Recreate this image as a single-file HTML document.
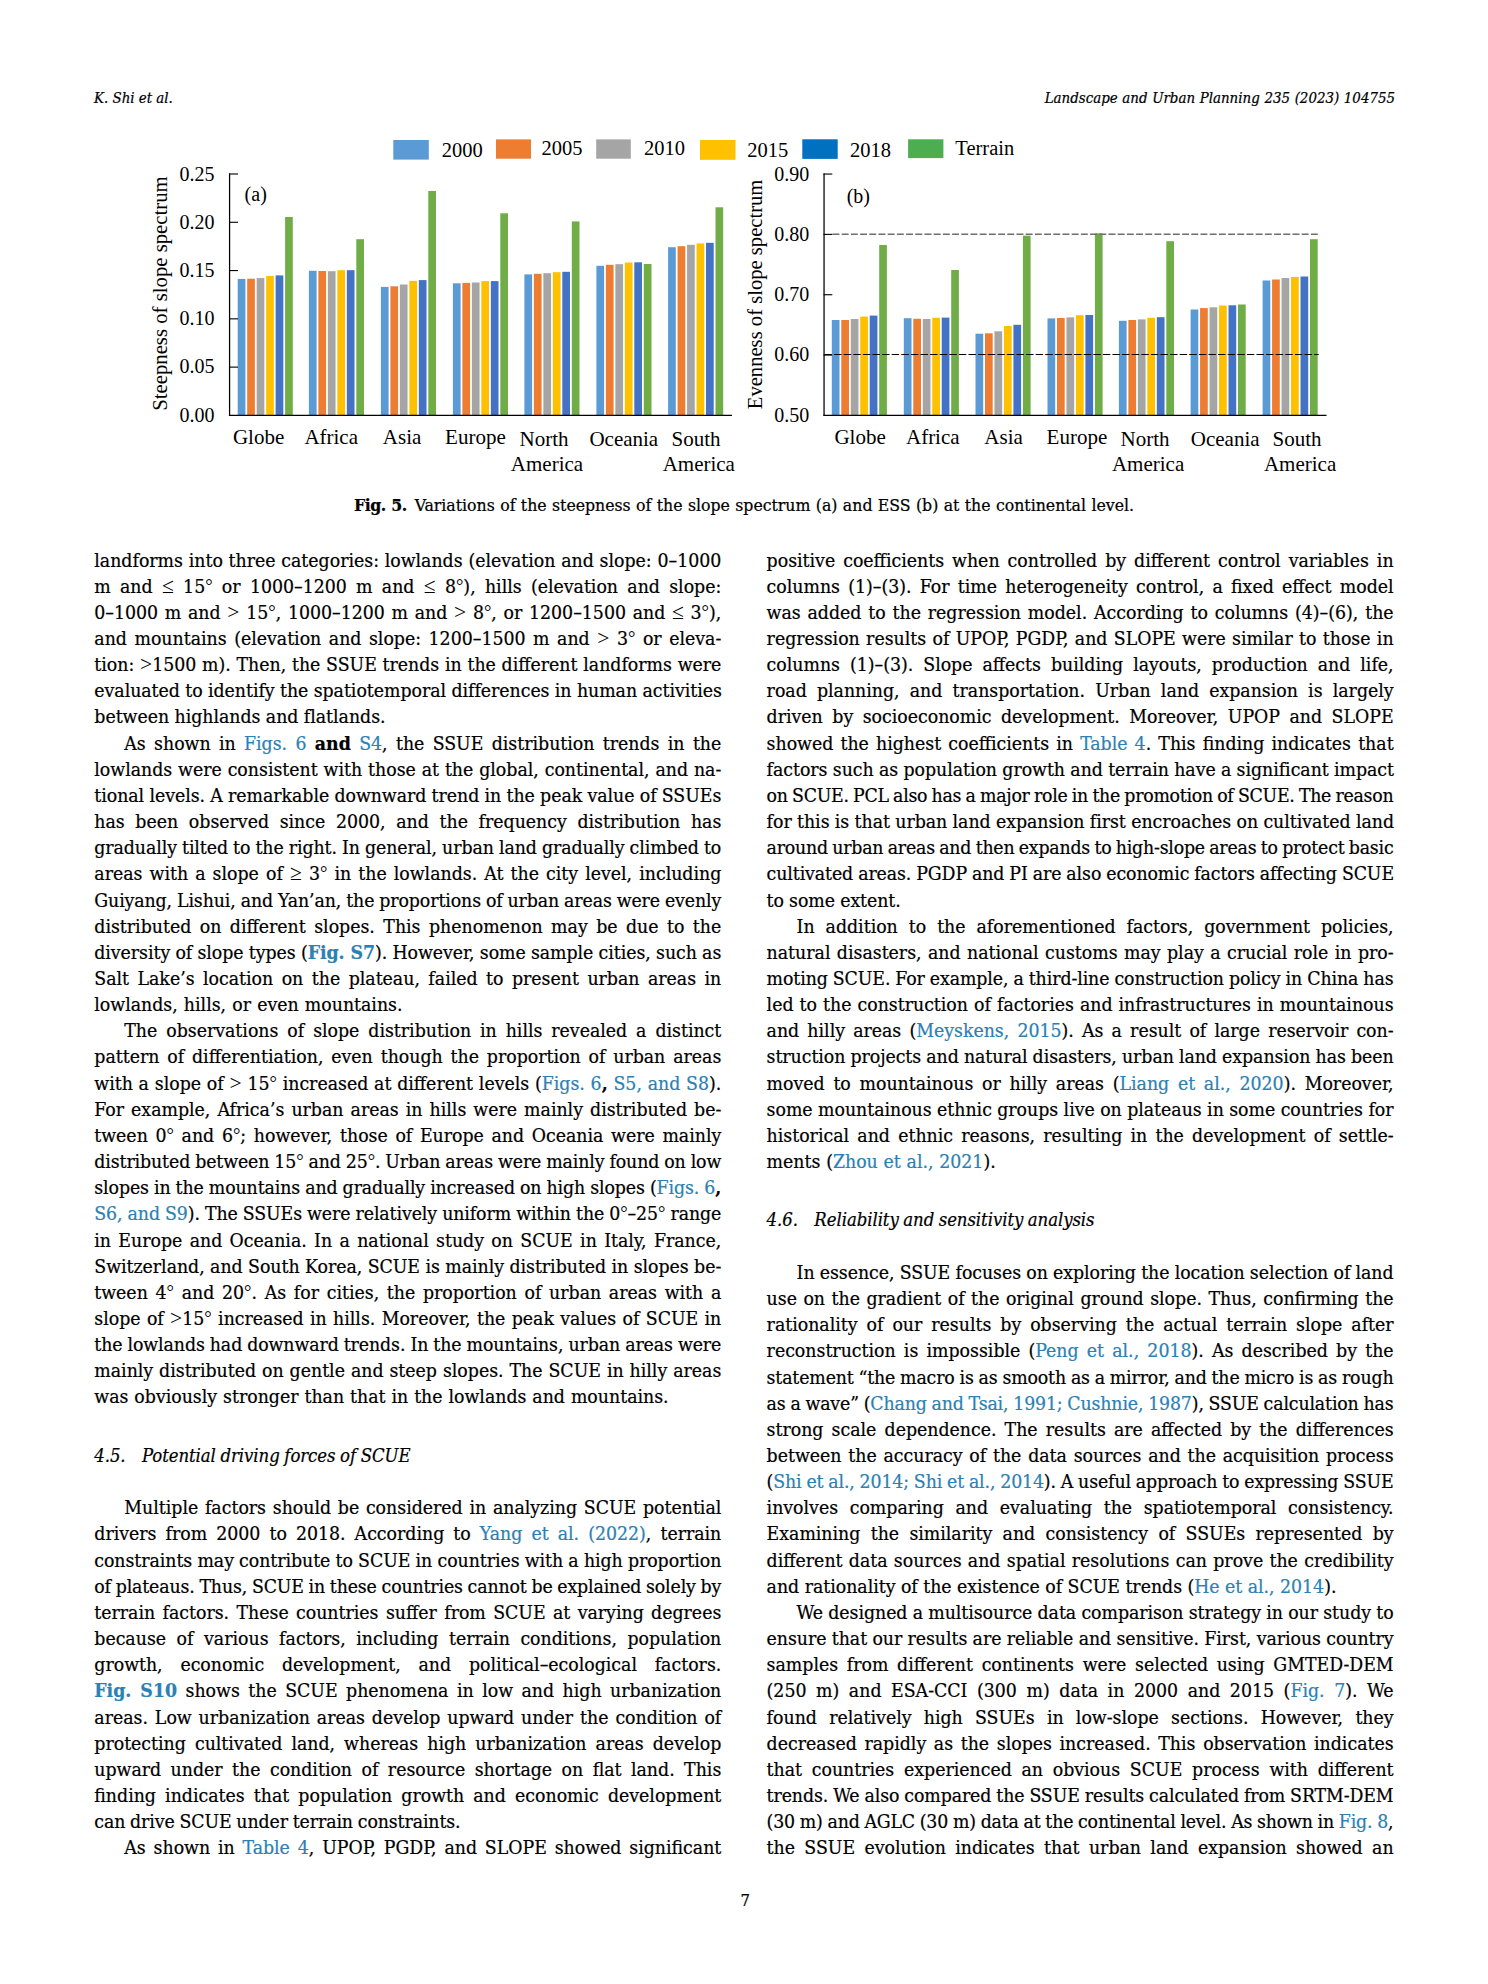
<!DOCTYPE html>
<html lang="en"><head><meta charset="utf-8"><title>Landscape and Urban Planning 235 (2023) 104755</title>
<style>
html,body{margin:0;padding:0;background:#fff}
body{width:1488px;height:1984px;position:relative;overflow:hidden;font-family:"DejaVu Serif Condensed", "DejaVu Serif", "Liberation Serif", serif;font-stretch:condensed;color:#000}
figure,h3,figcaption{margin:0;padding:0;font-weight:normal}
.ln{position:absolute;white-space:nowrap;-webkit-text-stroke-width:0.22px;font-size:19.3px;line-height:26px;height:26px;margin:0}
.ln.h{font-style:italic;font-size:18.4px}
.ln.hd{font-style:italic;font-size:14.9px}
.ln.cap{font-size:17.5px}
.ln.pn{font-size:16.5px}
.a{color:#2b81b4}
.cap b{letter-spacing:-0.45px}
.dg{font-family:"Liberation Serif",serif;font-size:0.96em;line-height:1;position:relative;top:-0.06em;-webkit-text-stroke-width:0}
.mt{font-family:"Liberation Serif",serif;font-size:1.12em;line-height:1;-webkit-text-stroke-width:0}
</style></head><body>
<header>
<div class="ln hd" style="left:94.1px;top:85.00px;word-spacing:-0.047px;letter-spacing:-0.018px">K. Shi et al.</div>
<div class="ln hd" style="left:1044.7px;top:85.00px;word-spacing:0.417px">Landscape and Urban Planning 235 (2023) 104755</div>
</header>
<figure>
<svg width="1488" height="500" viewBox="0 0 1488 500" style="position:absolute;left:0;top:0;font-family:'Liberation Serif', serif;font-size:20px;fill:#000">
<rect x="237.70" y="278.9" width="7.7" height="136.1" fill="#5b9bd5"/>
<rect x="247.18" y="278.7" width="7.7" height="136.3" fill="#ed7d31"/>
<rect x="256.66" y="278.1" width="7.7" height="136.9" fill="#a5a5a5"/>
<rect x="266.14" y="276.0" width="7.7" height="139.0" fill="#ffc000"/>
<rect x="275.62" y="275.4" width="7.7" height="139.6" fill="#4472c4"/>
<rect x="285.10" y="217.0" width="7.7" height="198.0" fill="#70ad47"/>
<rect x="308.90" y="270.8" width="7.7" height="144.2" fill="#5b9bd5"/>
<rect x="318.38" y="271.0" width="7.7" height="144.0" fill="#ed7d31"/>
<rect x="327.86" y="271.2" width="7.7" height="143.8" fill="#a5a5a5"/>
<rect x="337.34" y="270.2" width="7.7" height="144.8" fill="#ffc000"/>
<rect x="346.82" y="270.2" width="7.7" height="144.8" fill="#4472c4"/>
<rect x="356.30" y="239.2" width="7.7" height="175.8" fill="#70ad47"/>
<rect x="380.90" y="286.9" width="7.7" height="128.1" fill="#5b9bd5"/>
<rect x="390.38" y="286.3" width="7.7" height="128.7" fill="#ed7d31"/>
<rect x="399.86" y="284.5" width="7.7" height="130.5" fill="#a5a5a5"/>
<rect x="409.34" y="280.9" width="7.7" height="134.1" fill="#ffc000"/>
<rect x="418.82" y="280.1" width="7.7" height="134.9" fill="#4472c4"/>
<rect x="428.30" y="191.0" width="7.7" height="224.0" fill="#70ad47"/>
<rect x="452.90" y="283.3" width="7.7" height="131.7" fill="#5b9bd5"/>
<rect x="462.38" y="282.9" width="7.7" height="132.1" fill="#ed7d31"/>
<rect x="471.86" y="282.5" width="7.7" height="132.5" fill="#a5a5a5"/>
<rect x="481.34" y="281.1" width="7.7" height="133.9" fill="#ffc000"/>
<rect x="490.82" y="281.1" width="7.7" height="133.9" fill="#4472c4"/>
<rect x="500.30" y="213.3" width="7.7" height="201.7" fill="#70ad47"/>
<rect x="524.40" y="274.4" width="7.7" height="140.6" fill="#5b9bd5"/>
<rect x="533.88" y="273.8" width="7.7" height="141.2" fill="#ed7d31"/>
<rect x="543.36" y="273.2" width="7.7" height="141.8" fill="#a5a5a5"/>
<rect x="552.84" y="272.2" width="7.7" height="142.8" fill="#ffc000"/>
<rect x="562.32" y="271.8" width="7.7" height="143.2" fill="#4472c4"/>
<rect x="571.80" y="221.4" width="7.7" height="193.6" fill="#70ad47"/>
<rect x="596.40" y="265.8" width="7.7" height="149.2" fill="#5b9bd5"/>
<rect x="605.88" y="264.8" width="7.7" height="150.2" fill="#ed7d31"/>
<rect x="615.36" y="264.2" width="7.7" height="150.8" fill="#a5a5a5"/>
<rect x="624.84" y="262.5" width="7.7" height="152.5" fill="#ffc000"/>
<rect x="634.32" y="262.3" width="7.7" height="152.7" fill="#4472c4"/>
<rect x="643.80" y="264.0" width="7.7" height="151.0" fill="#70ad47"/>
<rect x="668.10" y="247.2" width="7.7" height="167.8" fill="#5b9bd5"/>
<rect x="677.58" y="246.2" width="7.7" height="168.8" fill="#ed7d31"/>
<rect x="687.06" y="244.8" width="7.7" height="170.2" fill="#a5a5a5"/>
<rect x="696.54" y="243.4" width="7.7" height="171.6" fill="#ffc000"/>
<rect x="706.02" y="242.8" width="7.7" height="172.2" fill="#4472c4"/>
<rect x="715.50" y="207.3" width="7.7" height="207.7" fill="#70ad47"/>
<rect x="831.80" y="320.0" width="7.7" height="95.0" fill="#5b9bd5"/>
<rect x="841.28" y="320.0" width="7.7" height="95.0" fill="#ed7d31"/>
<rect x="850.76" y="319.0" width="7.7" height="96.0" fill="#a5a5a5"/>
<rect x="860.24" y="316.6" width="7.7" height="98.4" fill="#ffc000"/>
<rect x="869.72" y="315.6" width="7.7" height="99.4" fill="#4472c4"/>
<rect x="879.20" y="245.0" width="7.7" height="170.0" fill="#70ad47"/>
<rect x="903.80" y="318.2" width="7.7" height="96.8" fill="#5b9bd5"/>
<rect x="913.28" y="318.8" width="7.7" height="96.2" fill="#ed7d31"/>
<rect x="922.76" y="319.0" width="7.7" height="96.0" fill="#a5a5a5"/>
<rect x="932.24" y="317.8" width="7.7" height="97.2" fill="#ffc000"/>
<rect x="941.72" y="317.6" width="7.7" height="97.4" fill="#4472c4"/>
<rect x="951.20" y="270.0" width="7.7" height="145.0" fill="#70ad47"/>
<rect x="975.50" y="333.7" width="7.7" height="81.3" fill="#5b9bd5"/>
<rect x="984.98" y="333.3" width="7.7" height="81.7" fill="#ed7d31"/>
<rect x="994.46" y="331.3" width="7.7" height="83.7" fill="#a5a5a5"/>
<rect x="1003.94" y="326.0" width="7.7" height="89.0" fill="#ffc000"/>
<rect x="1013.42" y="324.8" width="7.7" height="90.2" fill="#4472c4"/>
<rect x="1022.90" y="235.7" width="7.7" height="179.3" fill="#70ad47"/>
<rect x="1047.50" y="318.4" width="7.7" height="96.6" fill="#5b9bd5"/>
<rect x="1056.98" y="318.0" width="7.7" height="97.0" fill="#ed7d31"/>
<rect x="1066.46" y="317.4" width="7.7" height="97.6" fill="#a5a5a5"/>
<rect x="1075.94" y="315.2" width="7.7" height="99.8" fill="#ffc000"/>
<rect x="1085.42" y="315.0" width="7.7" height="100.0" fill="#4472c4"/>
<rect x="1094.90" y="233.3" width="7.7" height="181.7" fill="#70ad47"/>
<rect x="1118.90" y="320.8" width="7.7" height="94.2" fill="#5b9bd5"/>
<rect x="1128.38" y="320.0" width="7.7" height="95.0" fill="#ed7d31"/>
<rect x="1137.86" y="319.4" width="7.7" height="95.6" fill="#a5a5a5"/>
<rect x="1147.34" y="317.8" width="7.7" height="97.2" fill="#ffc000"/>
<rect x="1156.82" y="317.2" width="7.7" height="97.8" fill="#4472c4"/>
<rect x="1166.30" y="241.2" width="7.7" height="173.8" fill="#70ad47"/>
<rect x="1190.60" y="309.5" width="7.7" height="105.5" fill="#5b9bd5"/>
<rect x="1200.08" y="308.1" width="7.7" height="106.9" fill="#ed7d31"/>
<rect x="1209.56" y="307.3" width="7.7" height="107.7" fill="#a5a5a5"/>
<rect x="1219.04" y="305.5" width="7.7" height="109.5" fill="#ffc000"/>
<rect x="1228.52" y="305.3" width="7.7" height="109.7" fill="#4472c4"/>
<rect x="1238.00" y="304.5" width="7.7" height="110.5" fill="#70ad47"/>
<rect x="1262.60" y="280.5" width="7.7" height="134.5" fill="#5b9bd5"/>
<rect x="1272.08" y="279.5" width="7.7" height="135.5" fill="#ed7d31"/>
<rect x="1281.56" y="278.0" width="7.7" height="137.0" fill="#a5a5a5"/>
<rect x="1291.04" y="277.0" width="7.7" height="138.0" fill="#ffc000"/>
<rect x="1300.52" y="276.5" width="7.7" height="138.5" fill="#4472c4"/>
<rect x="1310.00" y="239.2" width="7.7" height="175.8" fill="#70ad47"/>
<line x1="832.5" y1="234.2" x2="1318.7" y2="234.2" stroke="#6e6e6e" stroke-width="1.5" stroke-dasharray="6.9 2.3"/>
<line x1="824.5" y1="354.5" x2="1318.7" y2="354.5" stroke="#000" stroke-width="1.1" stroke-dasharray="7.4 2.2"/>
<rect x="228.95" y="173.4" width="1.25" height="242.6" fill="#000"/>
<rect x="228.95" y="414.75" width="503.0" height="1.25" fill="#000"/>
<rect x="229" y="173.45" width="9.0" height="1.1" fill="#000"/>
<rect x="229" y="221.73" width="9.0" height="1.1" fill="#000"/>
<rect x="229" y="270.01" width="9.0" height="1.1" fill="#000"/>
<rect x="229" y="318.29" width="9.0" height="1.1" fill="#000"/>
<rect x="229" y="366.57" width="9.0" height="1.1" fill="#000"/>
<rect x="823.42" y="173.4" width="1.25" height="242.6" fill="#000"/>
<rect x="823.42" y="414.75" width="503.1" height="1.25" fill="#000"/>
<rect x="823.5" y="173.50" width="8.8" height="1.1" fill="#000"/>
<rect x="823.5" y="233.84" width="8.8" height="1.1" fill="#000"/>
<rect x="823.5" y="294.18" width="8.8" height="1.1" fill="#000"/>
<rect x="823.5" y="354.52" width="8.8" height="1.1" fill="#000"/>
<text x="214.4" y="180.7" text-anchor="end">0.25</text>
<text x="214.4" y="228.9" text-anchor="end">0.20</text>
<text x="214.4" y="277.0" text-anchor="end">0.15</text>
<text x="214.4" y="325.2" text-anchor="end">0.10</text>
<text x="214.4" y="373.3" text-anchor="end">0.05</text>
<text x="214.4" y="421.5" text-anchor="end">0.00</text>
<text x="809.2" y="180.8" text-anchor="end">0.90</text>
<text x="809.2" y="241.0" text-anchor="end">0.80</text>
<text x="809.2" y="301.2" text-anchor="end">0.70</text>
<text x="809.2" y="361.3" text-anchor="end">0.60</text>
<text x="809.2" y="421.5" text-anchor="end">0.50</text>
<text x="244.6" y="201.3">(a)</text>
<text x="846.7" y="203">(b)</text>
<text transform="translate(166.6 410.8) rotate(-90)" textLength="234.5" lengthAdjust="spacingAndGlyphs" style="font-size:21.2px">Steepness of slope spectrum</text>
<text transform="translate(762 409.2) rotate(-90)" textLength="229.6" lengthAdjust="spacingAndGlyphs" style="font-size:21.2px">Evenness of slope spectrum</text>
<text x="258.6" y="444.0" text-anchor="middle" style="font-size:21px">Globe</text>
<text x="331.2" y="444.0" text-anchor="middle" style="font-size:21px">Africa</text>
<text x="402.1" y="444.0" text-anchor="middle" style="font-size:21px">Asia</text>
<text x="475.4" y="444.0" text-anchor="middle" style="font-size:21px">Europe</text>
<text x="544.0" y="445.7" text-anchor="middle" style="font-size:21px">North</text>
<text x="547.0" y="470.9" text-anchor="middle" style="font-size:21px">America</text>
<text x="623.8" y="445.7" text-anchor="middle" style="font-size:21px">Oceania</text>
<text x="696.0" y="445.7" text-anchor="middle" style="font-size:21px">South</text>
<text x="698.8" y="470.9" text-anchor="middle" style="font-size:21px">America</text>
<text x="860.1" y="443.5" text-anchor="middle" style="font-size:21px">Globe</text>
<text x="932.8" y="443.5" text-anchor="middle" style="font-size:21px">Africa</text>
<text x="1003.6" y="443.5" text-anchor="middle" style="font-size:21px">Asia</text>
<text x="1076.9" y="443.5" text-anchor="middle" style="font-size:21px">Europe</text>
<text x="1145.0" y="445.7" text-anchor="middle" style="font-size:21px">North</text>
<text x="1148.1" y="470.9" text-anchor="middle" style="font-size:21px">America</text>
<text x="1225.2" y="445.7" text-anchor="middle" style="font-size:21px">Oceania</text>
<text x="1297.0" y="445.7" text-anchor="middle" style="font-size:21px">South</text>
<text x="1300.1" y="470.9" text-anchor="middle" style="font-size:21px">America</text>
<rect x="393.3" y="140.0" width="35.5" height="19.6" fill="#5b9bd5"/>
<text x="441.7" y="156.7" style="font-size:20.5px">2000</text>
<rect x="496.0" y="139.4" width="35.0" height="19.3" fill="#ed7d31"/>
<text x="541.5" y="155.0" style="font-size:20.5px">2005</text>
<rect x="596.2" y="139.4" width="34.6" height="19.3" fill="#a5a5a5"/>
<text x="643.9" y="155.0" style="font-size:20.5px">2010</text>
<rect x="700.0" y="140.0" width="35.5" height="19.8" fill="#ffc000"/>
<text x="747.2" y="157.4" style="font-size:20.5px">2015</text>
<rect x="802.3" y="139.3" width="35.4" height="19.6" fill="#0070c0"/>
<text x="850.0" y="156.7" style="font-size:20.5px">2018</text>
<rect x="908.1" y="139.3" width="35.3" height="18.8" fill="#4dae51"/>
<text x="955.3" y="155.0" style="font-size:20.5px">Terrain</text>
</svg>
<figcaption class="ln cap" style="left:354.0px;top:492.00px;word-spacing:0.372px"><b>Fig. 5.</b> Variations of the steepness of the slope spectrum (a) and ESS (b) at the continental level.</figcaption>
</figure>
<main>
<section class="col">
<div class="ln" style="left:94.3px;top:548.00px;word-spacing:0.248px">landforms into three categories: lowlands (elevation and slope: 0–1000</div>
<div class="ln" style="left:94.3px;top:574.00px;word-spacing:3.779px">m and <span class="mt">≤</span> 15<span class="dg">°</span> or 1000–1200 m and <span class="mt">≤</span> 8<span class="dg">°</span>), hills (elevation and slope:</div>
<div class="ln" style="left:94.3px;top:600.00px;word-spacing:1.196px">0–1000 m and <span class="mt">&gt;</span> 15<span class="dg">°</span>, 1000–1200 m and <span class="mt">&gt;</span> 8<span class="dg">°</span>, or 1200–1500 and <span class="mt">≤</span> 3<span class="dg">°</span>),</div>
<div class="ln" style="left:94.3px;top:626.00px;word-spacing:2.034px">and mountains (elevation and slope: 1200–1500 m and <span class="mt">&gt;</span> 3<span class="dg">°</span> or eleva-</div>
<div class="ln" style="left:94.3px;top:652.00px;word-spacing:0.229px">tion: <span class="mt">&gt;</span>1500 m). Then, the SSUE trends in the different landforms were</div>
<div class="ln" style="left:94.3px;top:678.00px;word-spacing:-0.130px;letter-spacing:-0.022px">evaluated to identify the spatiotemporal differences in human activities</div>
<div class="ln" style="left:94.3px;top:704.00px;word-spacing:-0.080px;letter-spacing:-0.012px">between highlands and flatlands.</div>
<div class="ln" style="left:124.3px;top:731.00px;word-spacing:2.831px">As shown in <span class="a">Figs. 6</span> <b>and</b> <span class="a">S4</span>, the SSUE distribution trends in the</div>
<div class="ln" style="left:94.3px;top:757.00px;word-spacing:0.397px">lowlands were consistent with those at the global, continental, and na-</div>
<div class="ln" style="left:94.3px;top:783.00px;word-spacing:-0.153px;letter-spacing:-0.037px">tional levels. A remarkable downward trend in the peak value of SSUEs</div>
<div class="ln" style="left:94.3px;top:809.00px;word-spacing:5.160px">has been observed since 2000, and the frequency distribution has</div>
<div class="ln" style="left:94.3px;top:835.00px;word-spacing:-0.317px;letter-spacing:-0.072px">gradually tilted to the right. In general, urban land gradually climbed to</div>
<div class="ln" style="left:94.3px;top:861.00px;word-spacing:1.596px">areas with a slope of <span class="mt">≥</span> 3<span class="dg">°</span> in the lowlands. At the city level, including</div>
<div class="ln" style="left:94.3px;top:888.00px;word-spacing:-0.449px;letter-spacing:-0.096px">Guiyang, Lishui, and Yan’an, the proportions of urban areas were evenly</div>
<div class="ln" style="left:94.3px;top:914.00px;word-spacing:2.962px">distributed on different slopes. This phenomenon may be due to the</div>
<div class="ln" style="left:94.3px;top:940.00px;word-spacing:-0.178px;letter-spacing:-0.041px">diversity of slope types (<b class="a">Fig. S7</b>). However, some sample cities, such as</div>
<div class="ln" style="left:94.3px;top:966.00px;word-spacing:2.974px">Salt Lake’s location on the plateau, failed to present urban areas in</div>
<div class="ln" style="left:94.3px;top:992.00px;word-spacing:0.663px">lowlands, hills, or even mountains.</div>
<div class="ln" style="left:124.3px;top:1018.00px;word-spacing:3.429px">The observations of slope distribution in hills revealed a distinct</div>
<div class="ln" style="left:94.3px;top:1044.00px;word-spacing:2.356px">pattern of differentiation, even though the proportion of urban areas</div>
<div class="ln" style="left:94.3px;top:1071.00px;word-spacing:0.280px">with a slope of <span class="mt">&gt;</span> 15<span class="dg">°</span> increased at different levels (<span class="a">Figs. 6</span><b>,</b> <span class="a">S5, and S8</span>).</div>
<div class="ln" style="left:94.3px;top:1097.00px;word-spacing:1.572px">For example, Africa’s urban areas in hills were mainly distributed be-</div>
<div class="ln" style="left:94.3px;top:1123.00px;word-spacing:2.163px">tween 0<span class="dg">°</span> and 6<span class="dg">°</span>; however, those of Europe and Oceania were mainly</div>
<div class="ln" style="left:94.3px;top:1149.00px;word-spacing:-0.416px;letter-spacing:-0.101px">distributed between 15<span class="dg">°</span> and 25<span class="dg">°</span>. Urban areas were mainly found on low</div>
<div class="ln" style="left:94.3px;top:1175.00px;word-spacing:-0.369px;letter-spacing:-0.086px">slopes in the mountains and gradually increased on high slopes (<span class="a">Figs. 6</span><b>,</b></div>
<div class="ln" style="left:94.3px;top:1201.00px;word-spacing:-0.341px;letter-spacing:-0.082px"><span class="a">S6, and S9</span>). The SSUEs were relatively uniform within the 0<span class="dg">°</span>–25<span class="dg">°</span> range</div>
<div class="ln" style="left:94.3px;top:1228.00px;word-spacing:1.845px">in Europe and Oceania. In a national study on SCUE in Italy, France,</div>
<div class="ln" style="left:94.3px;top:1254.00px;word-spacing:-0.080px;letter-spacing:-0.017px">Switzerland, and South Korea, SCUE is mainly distributed in slopes be-</div>
<div class="ln" style="left:94.3px;top:1280.00px;word-spacing:2.204px">tween 4<span class="dg">°</span> and 20<span class="dg">°</span>. As for cities, the proportion of urban areas with a</div>
<div class="ln" style="left:94.3px;top:1306.00px;word-spacing:0.833px">slope of <span class="mt">&gt;</span>15<span class="dg">°</span> increased in hills. Moreover, the peak values of SCUE in</div>
<div class="ln" style="left:94.3px;top:1332.00px;word-spacing:-0.372px;letter-spacing:-0.083px">the lowlands had downward trends. In the mountains, urban areas were</div>
<div class="ln" style="left:94.3px;top:1358.00px;word-spacing:0.456px">mainly distributed on gentle and steep slopes. The SCUE in hilly areas</div>
<div class="ln" style="left:94.3px;top:1384.00px;word-spacing:0.453px">was obviously stronger than that in the lowlands and mountains.</div>
<h3 class="ln h" style="left:94.3px;top:1443.00px;word-spacing:-0.475px;letter-spacing:-0.079px">4.5. Potential driving forces of SCUE</h3>
<div class="ln" style="left:124.3px;top:1495.00px;word-spacing:1.227px">Multiple factors should be considered in analyzing SCUE potential</div>
<div class="ln" style="left:94.3px;top:1521.00px;word-spacing:3.558px">drivers from 2000 to 2018. According to <span class="a">Yang et al. (2022)</span>, terrain</div>
<div class="ln" style="left:94.3px;top:1548.00px;word-spacing:-0.217px;letter-spacing:-0.047px">constraints may contribute to SCUE in countries with a high proportion</div>
<div class="ln" style="left:94.3px;top:1574.00px;word-spacing:-0.574px;letter-spacing:-0.133px">of plateaus. Thus, SCUE in these countries cannot be explained solely by</div>
<div class="ln" style="left:94.3px;top:1600.00px;word-spacing:1.866px">terrain factors. These countries suffer from SCUE at varying degrees</div>
<div class="ln" style="left:94.3px;top:1626.00px;word-spacing:5.067px">because of various factors, including terrain conditions, population</div>
<div class="ln" style="left:94.3px;top:1652.00px;word-spacing:12.250px">growth, economic development, and political–ecological factors.</div>
<div class="ln" style="left:94.3px;top:1678.00px;word-spacing:2.977px"><b class="a">Fig. S10</b> shows the SCUE phenomena in low and high urbanization</div>
<div class="ln" style="left:94.3px;top:1705.00px;word-spacing:1.431px">areas. Low urbanization areas develop upward under the condition of</div>
<div class="ln" style="left:94.3px;top:1731.00px;word-spacing:3.549px">protecting cultivated land, whereas high urbanization areas develop</div>
<div class="ln" style="left:94.3px;top:1757.00px;word-spacing:3.953px">upward under the condition of resource shortage on flat land. This</div>
<div class="ln" style="left:94.3px;top:1783.00px;word-spacing:3.629px">finding indicates that population growth and economic development</div>
<div class="ln" style="left:94.3px;top:1809.00px;word-spacing:-0.537px;letter-spacing:-0.101px">can drive SCUE under terrain constraints.</div>
<div class="ln" style="left:124.3px;top:1835.00px;word-spacing:2.353px">As shown in <span class="a">Table 4</span>, UPOP, PGDP, and SLOPE showed significant</div>
</section>
<section class="col">
<div class="ln" style="left:766.6px;top:548.00px;word-spacing:2.541px">positive coefficients when controlled by different control variables in</div>
<div class="ln" style="left:766.6px;top:574.00px;word-spacing:2.755px">columns (1)–(3). For time heterogeneity control, a fixed effect model</div>
<div class="ln" style="left:766.6px;top:600.00px;word-spacing:1.350px">was added to the regression model. According to columns (4)–(6), the</div>
<div class="ln" style="left:766.6px;top:626.00px;word-spacing:0.828px">regression results of UPOP, PGDP, and SLOPE were similar to those in</div>
<div class="ln" style="left:766.6px;top:652.00px;word-spacing:4.459px">columns (1)–(3). Slope affects building layouts, production and life,</div>
<div class="ln" style="left:766.6px;top:678.00px;word-spacing:4.664px">road planning, and transportation. Urban land expansion is largely</div>
<div class="ln" style="left:766.6px;top:704.00px;word-spacing:3.998px">driven by socioeconomic development. Moreover, UPOP and SLOPE</div>
<div class="ln" style="left:766.6px;top:731.00px;word-spacing:1.639px">showed the highest coefficients in <span class="a">Table 4</span>. This finding indicates that</div>
<div class="ln" style="left:766.6px;top:757.00px;word-spacing:-0.142px;letter-spacing:-0.030px">factors such as population growth and terrain have a significant impact</div>
<div class="ln" style="left:766.6px;top:783.00px;word-spacing:-0.879px;letter-spacing:-0.264px">on SCUE. PCL also has a major role in the promotion of SCUE. The reason</div>
<div class="ln" style="left:766.6px;top:809.00px;word-spacing:-0.123px;letter-spacing:-0.028px">for this is that urban land expansion first encroaches on cultivated land</div>
<div class="ln" style="left:766.6px;top:835.00px;word-spacing:-0.893px;letter-spacing:-0.207px">around urban areas and then expands to high-slope areas to protect basic</div>
<div class="ln" style="left:766.6px;top:861.00px;word-spacing:-0.408px;letter-spacing:-0.089px">cultivated areas. PGDP and PI are also economic factors affecting SCUE</div>
<div class="ln" style="left:766.6px;top:888.00px;word-spacing:-0.241px;letter-spacing:-0.052px">to some extent.</div>
<div class="ln" style="left:796.6px;top:914.00px;word-spacing:5.455px">In addition to the aforementioned factors, government policies,</div>
<div class="ln" style="left:766.6px;top:940.00px;word-spacing:0.928px">natural disasters, and national customs may play a crucial role in pro-</div>
<div class="ln" style="left:766.6px;top:966.00px;word-spacing:-0.391px;letter-spacing:-0.084px">moting SCUE. For example, a third-line construction policy in China has</div>
<div class="ln" style="left:766.6px;top:992.00px;word-spacing:0.547px">led to the construction of factories and infrastructures in mountainous</div>
<div class="ln" style="left:766.6px;top:1018.00px;word-spacing:2.655px">and hilly areas (<span class="a">Meyskens, 2015</span>). As a result of large reservoir con-</div>
<div class="ln" style="left:766.6px;top:1044.00px;word-spacing:-0.272px;letter-spacing:-0.052px">struction projects and natural disasters, urban land expansion has been</div>
<div class="ln" style="left:766.6px;top:1071.00px;word-spacing:3.227px">moved to mountainous or hilly areas (<span class="a">Liang et al., 2020</span>). Moreover,</div>
<div class="ln" style="left:766.6px;top:1097.00px;word-spacing:-0.062px;letter-spacing:-0.014px">some mountainous ethnic groups live on plateaus in some countries for</div>
<div class="ln" style="left:766.6px;top:1123.00px;word-spacing:2.736px">historical and ethnic reasons, resulting in the development of settle-</div>
<div class="ln" style="left:766.6px;top:1149.00px;word-spacing:0.287px">ments (<span class="a">Zhou et al., 2021</span>).</div>
<h3 class="ln h" style="left:766.6px;top:1207.00px;word-spacing:-0.621px;letter-spacing:-0.070px">4.6. Reliability and sensitivity analysis</h3>
<div class="ln" style="left:796.6px;top:1260.00px;word-spacing:-0.195px;letter-spacing:-0.044px">In essence, SSUE focuses on exploring the location selection of land</div>
<div class="ln" style="left:766.6px;top:1286.00px;word-spacing:0.982px">use on the gradient of the original ground slope. Thus, confirming the</div>
<div class="ln" style="left:766.6px;top:1312.00px;word-spacing:3.475px">rationality of our results by observing the actual terrain slope after</div>
<div class="ln" style="left:766.6px;top:1338.00px;word-spacing:2.694px">reconstruction is impossible (<span class="a">Peng et al., 2018</span>). As described by the</div>
<div class="ln" style="left:766.6px;top:1365.00px;word-spacing:-0.473px;letter-spacing:-0.140px">statement “the macro is as smooth as a mirror, and the micro is as rough</div>
<div class="ln" style="left:766.6px;top:1391.00px;word-spacing:-0.553px;letter-spacing:-0.132px">as a wave” (<span class="a">Chang and Tsai, 1991; Cushnie, 1987</span>), SSUE calculation has</div>
<div class="ln" style="left:766.6px;top:1417.00px;word-spacing:2.648px">strong scale dependence. The results are affected by the differences</div>
<div class="ln" style="left:766.6px;top:1443.00px;word-spacing:1.278px">between the accuracy of the data sources and the acquisition process</div>
<div class="ln" style="left:766.6px;top:1469.00px;word-spacing:-0.467px;letter-spacing:-0.125px">(<span class="a">Shi et al., 2014; Shi et al., 2014</span>). A useful approach to expressing SSUE</div>
<div class="ln" style="left:766.6px;top:1495.00px;word-spacing:6.141px">involves comparing and evaluating the spatiotemporal consistency.</div>
<div class="ln" style="left:766.6px;top:1521.00px;word-spacing:4.799px">Examining the similarity and consistency of SSUEs represented by</div>
<div class="ln" style="left:766.6px;top:1548.00px;word-spacing:0.793px">different data sources and spatial resolutions can prove the credibility</div>
<div class="ln" style="left:766.6px;top:1574.00px;word-spacing:-0.044px;letter-spacing:-0.011px">and rationality of the existence of SCUE trends (<span class="a">He et al., 2014</span>).</div>
<div class="ln" style="left:796.6px;top:1600.00px;word-spacing:-0.183px;letter-spacing:-0.042px">We designed a multisource data comparison strategy in our study to</div>
<div class="ln" style="left:766.6px;top:1626.00px;word-spacing:-0.164px;letter-spacing:-0.034px">ensure that our results are reliable and sensitive. First, various country</div>
<div class="ln" style="left:766.6px;top:1652.00px;word-spacing:3.174px">samples from different continents were selected using GMTED-DEM</div>
<div class="ln" style="left:766.6px;top:1678.00px;word-spacing:4.087px">(250 m) and ESA-CCI (300 m) data in 2000 and 2015 (<span class="a">Fig. 7</span>). We</div>
<div class="ln" style="left:766.6px;top:1705.00px;word-spacing:6.746px">found relatively high SSUEs in low-slope sections. However, they</div>
<div class="ln" style="left:766.6px;top:1731.00px;word-spacing:2.139px">decreased rapidly as the slopes increased. This observation indicates</div>
<div class="ln" style="left:766.6px;top:1757.00px;word-spacing:4.229px">that countries experienced an obvious SCUE process with different</div>
<div class="ln" style="left:766.6px;top:1783.00px;word-spacing:-0.435px;letter-spacing:-0.090px">trends. We also compared the SSUE results calculated from SRTM-DEM</div>
<div class="ln" style="left:766.6px;top:1809.00px;word-spacing:-0.524px;letter-spacing:-0.164px">(30 m) and AGLC (30 m) data at the continental level. As shown in <span class="a">Fig. 8</span>,</div>
<div class="ln" style="left:766.6px;top:1835.00px;word-spacing:3.865px">the SSUE evolution indicates that urban land expansion showed an</div>
</section>
</main>
<footer>
<div class="ln pn" style="left:740.5px;top:1888.00px">7</div>
</footer>
</body></html>
